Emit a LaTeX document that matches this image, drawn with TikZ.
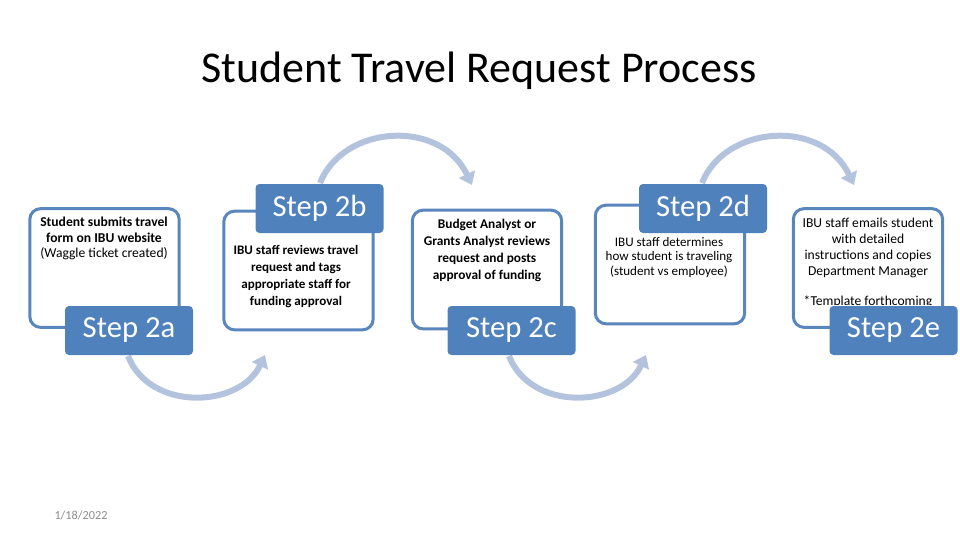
\documentclass[tikz,border=0pt]{standalone}
\usepackage{fontspec}
\setmainfont{Carlito}
\usetikzlibrary{arrows.meta}
\definecolor{stepblue}{HTML}{4F81BD}
\definecolor{outlineblue}{HTML}{5A86BE}
\definecolor{arcblue}{HTML}{B4C3DD}
\definecolor{dategray}{HTML}{8C8C8C}
\begin{document}
\begin{tikzpicture}[x=0.75pt,y=-0.75pt,
  outlinebox/.style={draw=outlineblue, line width=2.25pt, rounded corners=8pt,
    minimum width=112pt, minimum height=89pt, inner sep=0pt, outer sep=0pt},
  steplabel/.style={fill=stepblue, rounded corners=3pt, text=white,
    font=\fontsize{23}{27}\selectfont, minimum width=96pt, minimum height=36.75pt,
    inner sep=0pt, outer sep=0pt},
  boxtext/.style={align=center, inner sep=0pt, text=black},
  arcarrow/.style={draw=arcblue, line width=4.5pt,
    -{Triangle[width=13pt,length=9pt]}},
]
\useasboundingbox (0,0) rectangle (960,540);

% title
\node[anchor=base, font=\fontsize{33}{40}\selectfont] (title) at (479,82) {Student Travel Request Process};

% arcs (drawn first, under labels)
\coordinate (a1s) at (320,183);
\coordinate (a1e) at (472,185);
\coordinate (a2s) at (702,183);
\coordinate (a2e) at (854,185);
\coordinate (b1s) at (128,356);
\coordinate (b1e) at (265,355);
\coordinate (b2s) at (509,356);
\coordinate (b2e) at (646,355);
\draw[arcarrow] (a1s) .. controls (343,125) and (440,118) .. (a1e);
\draw[arcarrow] (a2s) .. controls (725,125) and (822,118) .. (a2e);
\draw[arcarrow] (b1s) .. controls (150,412) and (240,408) .. (b1e);
\draw[arcarrow] (b2s) .. controls (531,412) and (621,408) .. (b2e);

% outline boxes
\node[outlinebox] (box1) at (104.5,268) {};
\node[outlinebox] (box2) at (298.5,270.5) {};
\node[outlinebox] (box3) at (487,269.5) {};
\node[outlinebox] (box4) at (670,264.5) {};
\node[outlinebox] (box5) at (868,268) {};

% box texts
\node[boxtext, font=\bfseries\fontsize{10.2}{11.6}\selectfont] (t1) at (104,238.5)
  {Student submits travel\\form on IBU website\\\mdseries(Waggle ticket created)};
\node[boxtext, font=\bfseries\fontsize{9.8}{12.75}\selectfont] (t2) at (296,276.5)
  {IBU staff reviews travel\\request and tags\\appropriate staff for\\funding approval};
\node[boxtext, font=\bfseries\fontsize{10}{12.75}\selectfont] (t3) at (487,250.5)
  {Budget Analyst or\\Grants Analyst reviews\\request and posts\\approval of funding};
\node[boxtext, font=\fontsize{9.8}{10.9}\selectfont] (t4) at (669,257.5)
  {IBU staff determines\\how student is traveling\\(student vs employee)};
\node[boxtext, font=\fontsize{10.2}{12}\selectfont] (t5) at (868,248)
  {IBU staff emails student\\with detailed\\instructions and copies\\Department Manager};
\begin{scope}
  \clip (796,280) rectangle (940,304);
  \node[boxtext, font=\fontsize{10.2}{12}\selectfont] (t5b) at (868,302)
    {*Template forthcoming};
\end{scope}

% step labels
\node[steplabel] (s1) at (129,330.5) {Step 2a};
\node[steplabel] (s2) at (319.5,208.5) {Step 2b};
\node[steplabel] (s3) at (511.5,330.5) {Step 2c};
\node[steplabel] (s4) at (703,208.5) {Step 2d};
\node[steplabel] (s5) at (893.5,330.5) {Step 2e};

% date
\node[text=dategray, font=\fontsize{9.2}{11}\selectfont] (date) at (81,515) {1/18/2022};
\end{tikzpicture}
\end{document}
